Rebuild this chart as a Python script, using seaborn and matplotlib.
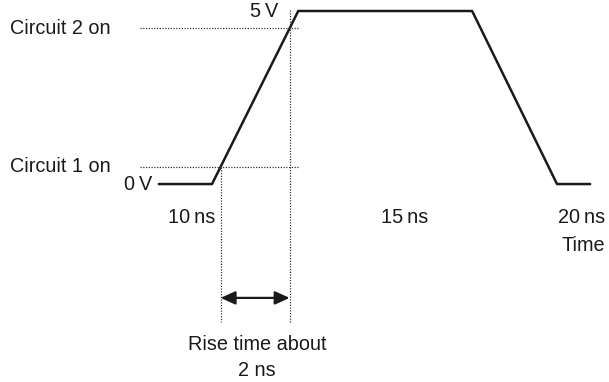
import matplotlib
matplotlib.use("Agg")
import matplotlib.pyplot as plt
import numpy as np
import pandas as pd
import seaborn as sns

# Signal waveform (time in ns, level in volts)
time_ns = [8.46, 10.0, 12.5, 17.54, 20.0, 20.96]
volts = [0.0, 0.0, 5.0, 5.0, 0.0, 0.0]

# Switching thresholds of the two circuits
threshold_labels = ["Circuit 1 on", "Circuit 2 on"]
threshold_volts = [0.5, 4.5]

# Time annotations under the waveform
time_labels = ["10\u2009ns", "15\u2009ns", "20\u2009ns"]
time_label_pos = [9.42, 15.59, 20.72]

sns.set_theme(style="white")
plt.rcParams["font.family"] = ["Liberation Sans", "DejaVu Sans"]

fig = plt.figure(figsize=(6.09, 3.82), dpi=100)
ax = fig.add_axes([0, 0, 1, 1])
ax.set_xlim(3.855, 21.507)
ax.set_ylim(-5.72, 5.318)
ax.axis("off")

df = pd.DataFrame({"t": time_ns, "v": volts})
sns.lineplot(data=df, x="t", y="v", ax=ax, color="#1a1a1a", lw=1.8,
             sort=False, estimator=None)

# Crossing times of the rising edge with each threshold
t_rise0, t_rise1 = time_ns[1], time_ns[2]
v_top = volts[2]
cross = [t_rise0 + v / v_top * (t_rise1 - t_rise0) for v in threshold_volts]

dot = dict(color="#333333", lw=0.9, ls=(0, (1, 1.2)))
fs = 14.3
ink = "#1a1a1a"
for lab, v in zip(threshold_labels, threshold_volts):
    ax.plot([7.91, 12.52], [v, v], **dot)
    ax.text(4.145, v, lab, ha="left", va="center", fontsize=fs, color=ink)

ax.plot([cross[0], cross[0]], [threshold_volts[0], -3.99], **dot)
ax.plot([cross[1], cross[1]], [5.03, -3.99], **dot)

ax.annotate("", xy=(cross[1], -3.29), xytext=(cross[0], -3.29),
            arrowprops=dict(arrowstyle="<|-|>,head_length=0.55,head_width=0.25",
                            color=ink, lw=1.6, mutation_scale=16,
                            shrinkA=0, shrinkB=0))

ax.text(11.91, 5.0, "5\u2009V", ha="right", va="center", fontsize=fs, color=ink)
ax.text(8.26, 0.0, "0\u2009V", ha="right", va="center", fontsize=fs, color=ink)

for lab, t in zip(time_labels, time_label_pos):
    ax.text(t, -0.98, lab, ha="center", va="center", fontsize=fs, color=ink)
ax.text(20.75, -1.79, "Time", ha="center", va="center", fontsize=fs, color=ink)

mid = (cross[0] + cross[1]) / 2
ax.text(mid + 0.05, -4.65, "Rise time about", ha="center", va="center",
        fontsize=fs, color=ink)
ax.text(mid + 0.05, -5.38, "2 ns", ha="center", va="center",
        fontsize=fs, color=ink)

fig.savefig("out.png", dpi=100)
